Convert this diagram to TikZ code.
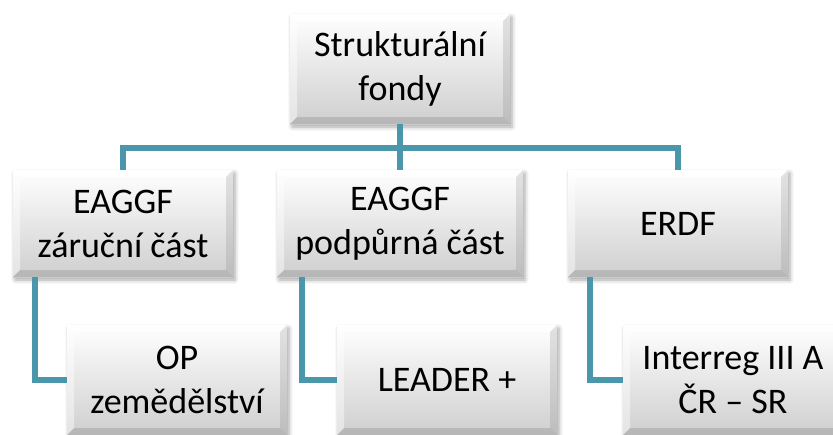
\documentclass[tikz,border=0pt]{standalone}
\usepackage{fontspec}
\setmainfont{Carlito}
\usetikzlibrary{shadows.blur}
\definecolor{conncol}{HTML}{4A97AB}
\tikzset{
  box/.style={rectangle, inner sep=0pt, align=center,
    font=\fontsize{36}{44}\selectfont,
    top color=white, bottom color=gray!38,
    blur shadow={shadow xshift=2pt, shadow yshift=-3pt, shadow blur radius=4pt, shadow opacity=35},
    path picture={
      \fill[white,opacity=.7] (path picture bounding box.north west) -- (path picture bounding box.north east)
        -- ([xshift=-7pt,yshift=-7pt]path picture bounding box.north east) -- ([xshift=7pt,yshift=-7pt]path picture bounding box.north west) -- cycle;
      \fill[white,opacity=.45] (path picture bounding box.north west) -- (path picture bounding box.south west)
        -- ([xshift=7pt,yshift=7pt]path picture bounding box.south west) -- ([xshift=7pt,yshift=-7pt]path picture bounding box.north west) -- cycle;
      \fill[gray,opacity=.22] (path picture bounding box.north east) -- (path picture bounding box.south east)
        -- ([xshift=-7pt,yshift=7pt]path picture bounding box.south east) -- ([xshift=-7pt,yshift=-7pt]path picture bounding box.north east) -- cycle;
      \fill[gray,opacity=.3] (path picture bounding box.south west) -- (path picture bounding box.south east)
        -- ([xshift=-7pt,yshift=7pt]path picture bounding box.south east) -- ([xshift=7pt,yshift=7pt]path picture bounding box.south west) -- cycle;
    }},
  conn/.style={draw=conncol, line width=5.5pt, line join=miter}
}
\begin{document}
\begin{tikzpicture}[x=1pt,y=-1pt]
\useasboundingbox (0,0) rectangle (833,434);
% level 1
\node[box, minimum width=220pt, minimum height=110pt] (top) at (400,69) {Strukturální\\fondy};
% level 2
\node[box, minimum width=220pt, minimum height=107pt] (a) at (123,223.5) {EAGGF\\záruční část};
\node[box, minimum width=246pt, minimum height=107pt] (b) at (400,223.5) {EAGGF\\podpůrná část};
\node[box, minimum width=220pt, minimum height=107pt] (c) at (678,223.5) {ERDF};
% level 3
\node[box, minimum width=220pt, minimum height=110pt] (oa) at (177,380) {OP\\zemědělství};
\node[box, minimum width=220pt, minimum height=110pt] (ob) at (447,380) {LEADER +};
\node[box, minimum width=220pt, minimum height=110pt] (oc) at (733,380) {Interreg III A\\ČR – SR};
% connectors
\coordinate (bus) at (400,148);
\draw[conn] (top.south) -- (bus);
\draw[conn] (a.north) |- (bus) -| (c.north);
\draw[conn] (bus) -- (b.north);
\draw[conn] ([xshift=22pt]a.south west) |- (oa.west);
\draw[conn] ([xshift=25pt]b.south west) |- (ob.west);
\draw[conn] ([xshift=22pt]c.south west) |- (oc.west);
\end{tikzpicture}
\end{document}
